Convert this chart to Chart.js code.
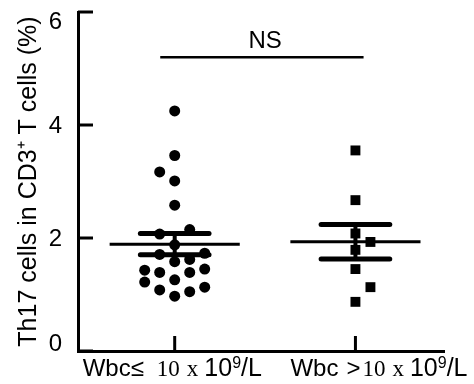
<!DOCTYPE html>
<html>
<head>
<meta charset="utf-8">
<script src="https://cdn.jsdelivr.net/npm/chart.js@4.4.1/dist/chart.umd.min.js"></script>
<style>
  html, body { margin: 0; padding: 0; background: #fff; }
  #wrap { width: 474px; height: 384px; position: relative; }
</style>
</head>
<body>
<div id="wrap"><canvas id="c" width="474" height="384"></canvas></div>
<script>
// ---- data ----
const categories = ['Wbc\u2264 10 x 10\u2079/L', 'Wbc >10 x 10\u2079/L'];
const yTicks = [0, 2, 4, 6];
// group 1 (circles): values and beeswarm column index
const group1Values = [4.25, 3.46, 3.17, 3.01, 2.58, 2.15, 2.07, 1.88, 1.73, 1.71, 1.62, 1.58, 1.45, 1.43, 1.39, 1.39, 1.26, 1.22, 1.13, 1.08, 1.05, 0.97];
const group1Cols   = [0, 0, -1, 0, 0, 1, -1, 0, 2, -1, 1, 0, 2, -2, -1, 1, 0, -2, 2, -1, 1, 0];
// group 2 (squares)
const group2Values = [3.55, 2.67, 2.08, 1.93, 1.79, 1.45, 1.13, 0.87];
const group2Cols   = [0, 0, 0, 1, 0, 0, 1, 0];
const sigLabel = 'NS';

// ---- helpers ----
const COL_W = 0.083, MEAN_HW = 0.36, SEM_HW = 0.19;
function stats(v) {
  const n = v.length, m = v.reduce((a, b) => a + b, 0) / n;
  const sd = Math.sqrt(v.reduce((a, b) => a + (b - m) * (b - m), 0) / (n - 1));
  return { m, sem: sd / Math.sqrt(n) };
}
function pts(vals, cols, cx) { return vals.map((v, i) => ({ x: cx + cols[i] * COL_W, y: v })); }
function seg(x1, x2, y1, y2) { return [{ x: x1, y: y1 }, { x: x2, y: y2 }]; }
const lineDs = (data, w, cap) => ({ type: 'line', data, borderColor: '#000', borderWidth: w, pointRadius: 0, borderCapStyle: cap || 'butt', fill: false, tension: 0 });

const datasets = [];
[[group1Values, 1], [group2Values, 2]].forEach(([vals, cx]) => {
  const s = stats(vals);
  datasets.push(lineDs(seg(cx - MEAN_HW, cx + MEAN_HW, s.m, s.m), 3));
  datasets.push(lineDs(seg(cx - SEM_HW, cx + SEM_HW, s.m + s.sem, s.m + s.sem), 5, 'round'));
  datasets.push(lineDs(seg(cx - SEM_HW, cx + SEM_HW, s.m - s.sem, s.m - s.sem), 5, 'round'));
  datasets.push(lineDs(seg(cx, cx, s.m - s.sem, s.m + s.sem), 4));
});
datasets.push({ type: 'scatter', data: pts(group1Values, group1Cols, 1), pointStyle: 'circle', pointRadius: 5.5, backgroundColor: '#000', borderWidth: 0 });
datasets.push({ type: 'scatter', data: pts(group2Values, group2Cols, 2), pointStyle: 'rect', pointRadius: 7, backgroundColor: '#000', borderWidth: 0 });
// significance bar
datasets.push(lineDs(seg(0.92, 2.045, 5.2, 5.2), 2.5));

const SANS = '"Liberation Sans", Arial, sans-serif';
const SERIF = '"Liberation Serif", "Times New Roman", serif';
// label pieces: text, font, size, gap before, raise
const labelParts = [
  [{ t: 'Wbc\u2264', f: SANS, s: 24, g: 0 }, { t: '10', f: SERIF, s: 23, g: 13 }, { t: 'x', f: SERIF, s: 23, g: 7 }, { t: '10', f: SANS, s: 25, g: 6 }, { t: '9', f: SANS, s: 16, g: 0, up: 8 }, { t: '/L', f: SANS, s: 25, g: 0 }],
  [{ t: 'Wbc', f: SANS, s: 24, g: 0 }, { t: '>', f: SANS, s: 24, g: 8 }, { t: '10', f: SERIF, s: 23, g: 2 }, { t: 'x', f: SERIF, s: 23, g: 7 }, { t: '10', f: SANS, s: 25, g: 6 }, { t: '9', f: SANS, s: 16, g: 0, up: 8 }, { t: '/L', f: SANS, s: 25, g: 0 }]
];
const labelStart = [-92, -65];

const decor = {
  id: 'decor',
  afterDraw(chart) {
    const ctx = chart.ctx, x = chart.scales.x, y = chart.scales.y, a = chart.chartArea;
    ctx.save();
    ctx.strokeStyle = '#000'; ctx.lineWidth = 3; ctx.lineCap = 'butt';
    yTicks.forEach(v => { const p = y.getPixelForValue(v); ctx.beginPath(); ctx.moveTo(a.left, p); ctx.lineTo(a.left + 15, p); ctx.stroke(); });
    [1, 2].forEach(v => { const p = x.getPixelForValue(v); ctx.beginPath(); ctx.moveTo(p, a.bottom); ctx.lineTo(p, a.bottom - 15); ctx.stroke(); });
    // y tick labels, kept inside the axis span
    ctx.fillStyle = '#000';
    ctx.font = '24px ' + SANS; ctx.textAlign = 'right'; ctx.textBaseline = 'middle';
    yTicks.forEach(v => {
      const p = Math.min(a.bottom - 8, Math.max(a.top + 9, y.getPixelForValue(v)));
      ctx.fillText(String(v), a.left - 16, p + 1);
    });
    // category labels
    ctx.textAlign = 'left'; ctx.textBaseline = 'alphabetic';
    labelParts.forEach((parts, i) => {
      let cx = x.getPixelForValue(i + 1) + labelStart[i];
      const base = a.bottom + 25;
      parts.forEach(p => {
        cx += p.g;
        ctx.font = p.s + 'px ' + p.f;
        ctx.fillText(p.t, cx, base - (p.up || 0));
        cx += ctx.measureText(p.t).width;
      });
    });
    // NS
    ctx.font = '24px ' + SANS; ctx.textAlign = 'center'; ctx.textBaseline = 'middle';
    ctx.fillText(sigLabel, x.getPixelForValue(1.5), y.getPixelForValue(5.48));
    ctx.restore();
  }
};

new Chart(document.getElementById('c'), {
  data: { datasets },
  options: {
    responsive: false, animation: false,
    layout: { padding: { left: 0, top: 0, right: 30, bottom: 0 } },
    plugins: { legend: { display: false }, tooltip: { enabled: false } },
    scales: {
      x: {
        type: 'linear', min: 0.465, max: 2.49,
        afterBuildTicks: s => { s.ticks = [{ value: 1 }, { value: 2 }]; },
        afterFit: s => { s.height = 33; s.paddingLeft = 0; s.paddingRight = 0; },
        ticks: { display: false },
        grid: { display: true, drawOnChartArea: false, drawTicks: false },
        border: { display: true, color: '#000', width: 3 }
      },
      y: {
        type: 'linear', min: 0, max: 6,
        afterBuildTicks: s => { s.ticks = yTicks.map(v => ({ value: v })); },
        afterFit: s => { s.width = 78; s.paddingTop = 12; s.paddingBottom = 0; },
        ticks: { display: false },
        grid: { display: true, drawOnChartArea: false, drawTicks: false },
        border: { display: true, color: '#000', width: 3 },
        title: { display: true, text: 'Th17 cells in CD3\u207A T cells (%)', color: '#000', font: { family: SANS, size: 25 }, padding: { top: 14, bottom: 0 } }
      }
    }
  },
  plugins: [decor]
});
</script>
</body>
</html>
